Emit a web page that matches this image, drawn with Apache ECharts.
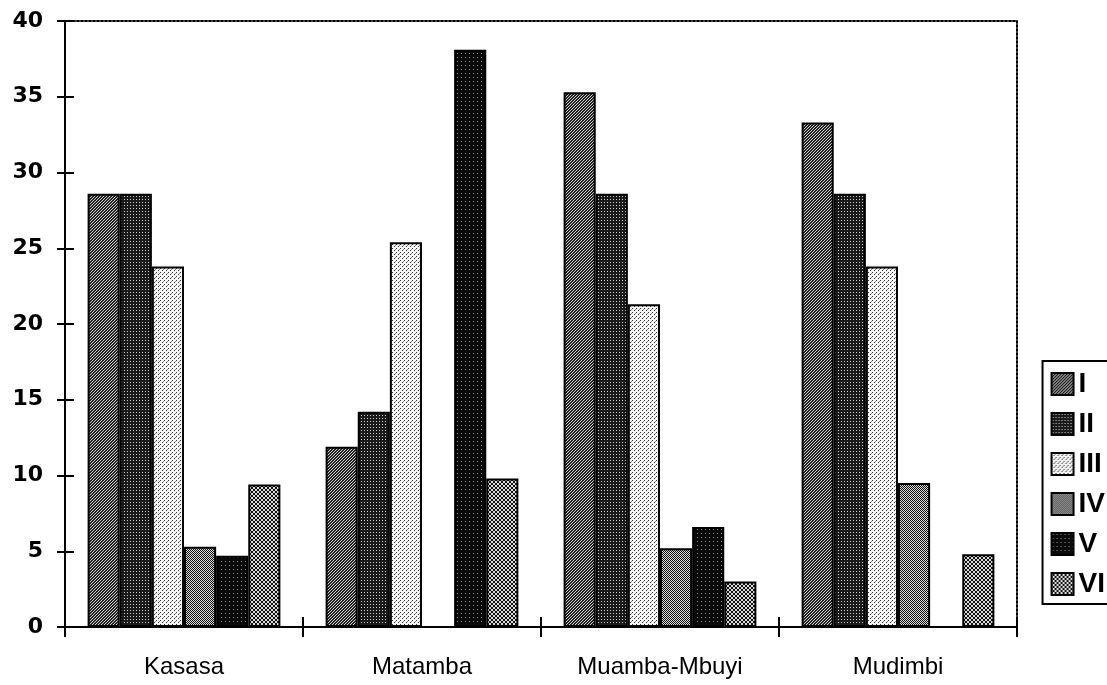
<!DOCTYPE html>
<html>
<head>
<meta charset="utf-8">
<title>Kasasa, Matamba, Muamba-Mbuyi, Mudimbi</title>
<script src="https://cdn.jsdelivr.net/npm/echarts@6/dist/echarts.min.js"></script>
<style>
  html, body { margin: 0; padding: 0; background: #fff; }
  #chart { width: 1107px; height: 685px; }
</style>
</head>
<body>
<div id="chart"></div>
<script>
// Village groups on the category axis
const categories = ['Kasasa', 'Matamba', 'Muamba-Mbuyi', 'Mudimbi'];

// Class names shown in the legend
const classNames = ['I', 'II', 'III', 'IV', 'V', 'VI'];

// Percentage per class and village (null = no bar)
const valuesI   = [28.6, 11.9, 35.3, 33.3];
const valuesII  = [28.6, 14.2, 28.6, 28.6];
const valuesIII = [23.8, 25.4, 21.3, 23.8];
const valuesIV  = [5.3, null, 5.2, 9.5];
const valuesV   = [4.7, 38.1, 6.6, null];
const valuesVI  = [9.4, 9.8, 3.0, 4.8];

// Value axis range and step
const yMin = 0;
const yMax = 40;
const yStep = 5;

// Small repeating tiles used as screen-tone fills
function tile(size, bg, pixels) {
  const c = document.createElement('canvas');
  c.width = size; c.height = size;
  const g = c.getContext('2d');
  g.fillStyle = bg;
  g.fillRect(0, 0, size, size);
  pixels.forEach(function (p) {
    g.fillStyle = p[2];
    g.fillRect(p[0], p[1], 1, 1);
  });
  return { image: c, repeat: 'repeat' };
}

const D = '#111111';
const L = '#dcdcdc';
const fills = [
  // I: diagonal hatch
  tile(3, '#222222', [[2, 0, '#cfcfcf'], [1, 1, '#cfcfcf'], [0, 2, '#cfcfcf']]),
  // II: dark with fine light dots
  tile(3, '#1a1a1a', [[1, 1, '#d0d0d0']]),
  // III: white with sparse dots
  tile(4, '#f4f4f4', [[0, 0, '#333333'], [2, 2, '#333333'], [3, 1, '#888888']]),
  // IV: fine checker
  tile(2, L, [[0, 0, D], [1, 1, D]]),
  // V: nearly black
  tile(4, '#0a0a0a', [[1, 1, '#909090']]),
  // VI: cross-hatched diamonds
  tile(4, L, [[0, 0, D], [1, 1, D], [2, 2, D], [3, 3, D],
              [3, 0, D], [2, 1, D], [1, 2, D], [0, 3, D]])
];

const seriesValues = [valuesI, valuesII, valuesIII, valuesIV, valuesV, valuesVI];

const series = classNames.map(function (name, i) {
  return {
    name: name,
    type: 'bar',
    xAxisIndex: 0,
    yAxisIndex: 0,
    data: seriesValues[i],
    barGap: '0%',
    barCategoryGap: '19%',
    itemStyle: { color: fills[i], borderColor: '#000', borderWidth: 2 },
    emphasis: { disabled: true }
  };
});

const ink = '#000';
const tickStyle = { color: ink, width: 2 };

const chart = echarts.init(document.getElementById('chart'), null, { renderer: 'canvas' });
chart.setOption({
  animation: false,
  backgroundColor: '#fff',
  grid: { left: 65, right: 90, top: 21, bottom: 58, containLabel: false },
  legend: {
    data: classNames,
    orient: 'vertical',
    right: -20,
    top: 361,
    icon: 'rect',
    itemWidth: 22,
    itemHeight: 22,
    itemGap: 12,
    padding: [9, 22, 6, 8],
    borderColor: ink,
    borderWidth: 2,
    selectedMode: false,
    textStyle: {
      color: ink,
      fontFamily: "'Liberation Sans Narrow', 'Liberation Sans', sans-serif",
      fontWeight: 'bold',
      fontSize: 28
    }
  },
  xAxis: [
    {
      type: 'category',
      data: categories,
      position: 'bottom',
      axisLine: { onZero: false, lineStyle: { color: ink, width: 2 } },
      axisTick: { show: true, length: 10, lineStyle: tickStyle },
      axisLabel: {
        color: ink,
        fontFamily: "'Liberation Sans', Arial, sans-serif",
        fontSize: 24,
        margin: 28
      },
      splitLine: { show: false }
    },
    {
      type: 'category',
      data: categories,
      position: 'bottom',
      axisLine: { show: false, onZero: false },
      axisTick: { show: true, inside: true, length: 10, lineStyle: tickStyle },
      axisLabel: { show: false },
      splitLine: { show: false }
    },
    {
      type: 'category',
      data: categories,
      position: 'top',
      axisLine: { show: true, onZero: false, lineStyle: { color: ink, width: 2, type: [2, 2] } },
      axisTick: { show: false },
      axisLabel: { show: false },
      splitLine: { show: false }
    }
  ],
  yAxis: [
    {
      type: 'value',
      min: yMin,
      max: yMax,
      interval: yStep,
      position: 'left',
      axisLine: { show: true, onZero: false, lineStyle: { color: ink, width: 2 } },
      axisTick: { show: true, length: 8, lineStyle: tickStyle },
      axisLabel: {
        color: ink,
        fontFamily: "'DejaVu Sans', sans-serif",
        fontWeight: 'bold',
        fontSize: 22,
        margin: 22
      },
      splitLine: { show: false }
    },
    {
      type: 'value',
      min: yMin,
      max: yMax,
      interval: yStep,
      position: 'left',
      axisLine: { show: false, onZero: false },
      axisTick: { show: true, inside: true, length: 9, lineStyle: tickStyle },
      axisLabel: { show: false },
      splitLine: { show: false }
    },
    {
      type: 'value',
      min: yMin,
      max: yMax,
      interval: yStep,
      position: 'right',
      axisLine: { show: true, onZero: false, lineStyle: { color: ink, width: 2, type: [2, 2] } },
      axisTick: { show: false },
      axisLabel: { show: false },
      splitLine: { show: false }
    }
  ],
  series: series
});
</script>
</body>
</html>
